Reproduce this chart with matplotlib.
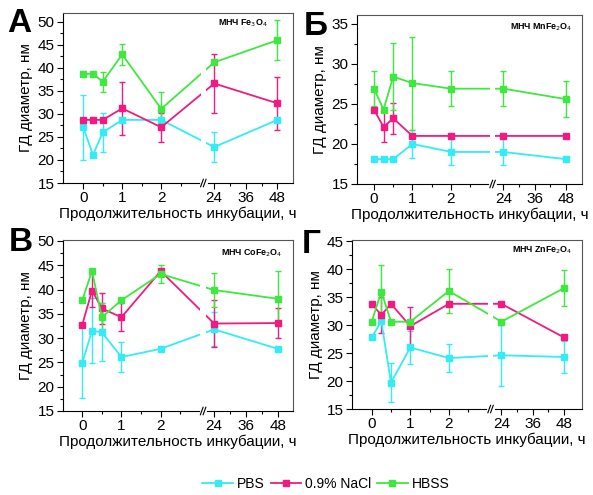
import numpy as np
import matplotlib.pyplot as plt
from matplotlib.ticker import MultipleLocator
from matplotlib.transforms import blended_transform_factory

plt.rcParams['font.family'] = ['Liberation Sans', 'DejaVu Sans']

hours = [0, 0.25, 0.5, 1, 2, 24, 48]
tick_hours = [0, 1, 2, 24, 36, 48]
minor_hours = [0.5, 1.5, 2.5, 30, 42]

panel_names = ['А', 'Б', 'В', 'Г']
np_names = ['МНЧ Fe$_3$O$_4$', 'МНЧ MnFe$_2$O$_4$', 'МНЧ CoFe$_2$O$_4$', 'МНЧ ZnFe$_2$O$_4$']
series_names = ['PBS', '0.9% NaCl', 'HBSS']

# A - Fe3O4
pbs_a = [27.1, 21.1, 26.0, 28.7, 28.7, 22.8, 28.7]
pbs_a_err = [7.1, 0, 4.3, 0, 0, 3.2, 0]
nacl_a = [28.7, 28.7, 28.7, 31.2, 27.1, 36.6, 32.3]
nacl_a_err = [0, 0, 0, 5.7, 3.1, 6.5, 5.7]
hbss_a = [38.7, 38.7, 37.0, 42.9, 31.1, 41.2, 46.0]
hbss_a_err = [0, 0, 2.2, 2.2, 3.7, 0, 4.3]

# Б - MnFe2O4
pbs_b = [18.1, 18.1, 18.1, 20.0, 19.0, 19.0, 18.1]
pbs_b_err = [0, 0, 0, 1.7, 1.6, 1.6, 0]
nacl_b = [24.3, 22.1, 23.2, 21.0, 21.0, 21.0, 21.0]
nacl_b_err = [0, 1.9, 1.9, 0, 0, 0, 0]
hbss_b = [26.9, 24.3, 28.4, 27.6, 26.9, 26.9, 25.6]
hbss_b_err = [2.2, 0, 4.2, 5.8, 2.2, 2.2, 2.2]

# В - CoFe2O4
pbs_c = [24.9, 31.5, 31.2, 26.1, 27.8, 31.8, 27.8]
pbs_c_err = [7.3, 6.7, 6.0, 3.0, 0, 3.5, 0]
nacl_c = [32.7, 39.8, 36.1, 34.3, 43.8, 33.0, 33.1]
nacl_c_err = [0, 3.4, 3.1, 2.9, 0, 4.8, 3.0]
hbss_c = [37.8, 43.8, 34.3, 37.8, 43.2, 39.9, 38.1]
hbss_c_err = [0, 0, 3.0, 0, 1.9, 3.5, 5.7]

# Г - ZnFe2O4
pbs_d = [27.8, 30.7, 19.7, 26.0, 24.1, 24.6, 24.3]
pbs_d_err = [0, 0, 3.5, 2.9, 2.5, 5.4, 2.9]
nacl_d = [33.8, 31.8, 33.8, 29.8, 33.8, 33.8, 27.8]
nacl_d_err = [0, 3.3, 0, 3.5, 0, 0, 0]
hbss_d = [30.6, 36.0, 30.6, 30.6, 36.1, 30.6, 36.6]
hbss_d_err = [0, 4.7, 0, 0, 4.0, 0, 3.2]

panels = [
    [(pbs_a, pbs_a_err), (nacl_a, nacl_a_err), (hbss_a, hbss_a_err)],
    [(pbs_b, pbs_b_err), (nacl_b, nacl_b_err), (hbss_b, hbss_b_err)],
    [(pbs_c, pbs_c_err), (nacl_c, nacl_c_err), (hbss_c, hbss_c_err)],
    [(pbs_d, pbs_d_err), (nacl_d, nacl_d_err), (hbss_d, hbss_d_err)],
]

colors = ['#33ecf5', '#f21a80', '#3ee83e']

# axes boxes in figure fractions and limits
boxes = [
    [0.1062, 0.6303, 0.3879, 0.3434],
    [0.6020, 0.6283, 0.3794, 0.3414],
    [0.1062, 0.1697, 0.3879, 0.3455],
    [0.5936, 0.1737, 0.3879, 0.3414],
]
xlims = [(-0.52, 5.38), (-0.44, 5.40), (-0.49, 5.37), (-0.51, 5.45)]
ylims = [(15, 51.9), (15, 36.1), (15, 50.2), (15, 45.2)]
label_pos = [(7, 8), (304, 11), (9, 227), (302, 229)]
note_pos = [(0.89, 0.94), (0.96, 0.93), (0.955, 0.925), (0.96, 0.94)]

BRK = 3.08


def xpos(h):
    # broken time axis: linear up to 2 h, compressed after 24 h
    h = np.asarray(h, dtype=float)
    return np.where(h <= 3, h, 3.36 + (h - 24) * 0.81 / 12)


fig = plt.figure(figsize=(5.93, 4.95), dpi=100)

for i in range(4):
    ax = fig.add_axes(boxes[i])
    x = xpos(hours)
    for (vals, errs), c, name in zip(panels[i], colors, series_names):
        ax.errorbar(x, vals, yerr=errs, color=c, lw=1.3, marker='s', ms=4.5,
                    elinewidth=1.0, capsize=2.2, capthick=1.0, label=name)
    ax.axvspan(BRK - 0.07, BRK + 0.07, color='white', zorder=2.3, lw=0)

    ax.set_xlim(*xlims[i])
    ax.set_ylim(*ylims[i])
    ax.set_xticks(xpos(tick_hours))
    ax.set_xticklabels([str(t) for t in tick_hours])
    ax.set_xticks(xpos(minor_hours), minor=True)
    ax.yaxis.set_major_locator(MultipleLocator(5))
    ax.yaxis.set_minor_locator(MultipleLocator(2.5))
    ax.tick_params(which='major', direction='out', length=4, width=0.8,
                   labelsize=11, pad=2, top=False, right=False)
    ax.tick_params(which='minor', direction='out', length=2, width=0.8,
                   top=False, right=False)
    for s in ['top', 'right']:
        ax.spines[s].set_color('#555555')
    ax.set_xlabel('Продолжительность инкубации, ч', fontsize=11, labelpad=1)
    ax.set_ylabel('ГД диаметр, нм', fontsize=11, labelpad=3)

    # break mark on x axis
    tr = blended_transform_factory(ax.transData, ax.transAxes)
    ax.plot([BRK - 0.06, BRK + 0.06], [0, 0], color='white', lw=2,
            transform=tr, clip_on=False, zorder=3)
    for dx in (-0.035, 0.035):
        ax.plot([BRK + dx - 0.035, BRK + dx + 0.035], [-0.022, 0.022],
                color='black', lw=0.8, transform=tr, clip_on=False, zorder=4)

    nx, ny = note_pos[i]
    ax.text(nx, ny, np_names[i], transform=ax.transAxes, fontsize=6.4,
            fontweight='bold', ha='right', va='center')

    lx, ly = label_pos[i]
    fig.text(lx / 593, 1 - ly / 495, panel_names[i], fontsize=24,
             fontweight='bold', ha='left', va='top')

handles, labels = ax.get_legend_handles_labels()
handles = [h[0] for h in handles]
fig.legend(handles, labels, loc='center', bbox_to_anchor=(326 / 593, 1 - 484 / 495),
           ncol=3, frameon=False, fontsize=10, handlelength=2.2,
           handletextpad=0.3, columnspacing=0.4)

fig.savefig('out.png', dpi=100)
